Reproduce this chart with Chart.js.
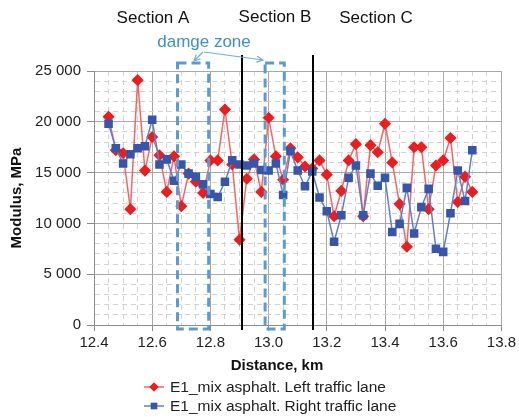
<!DOCTYPE html>
<html>
<head>
<meta charset="utf-8">
<script src="https://cdn.jsdelivr.net/npm/chart.js@4.4.0/dist/chart.umd.min.js"></script>
<style>
  html, body { margin: 0; padding: 0; background: #fff; }
</style>
</head>
<body>
<canvas id="chart" width="519" height="417"></canvas>
<script>
// distance along the road, km
const distance = [
  12.45, 12.475, 12.5, 12.525, 12.55, 12.575, 12.6, 12.625, 12.65, 12.675,
  12.7, 12.725, 12.75, 12.775, 12.8, 12.825, 12.85, 12.875, 12.9, 12.925,
  12.95, 12.975, 13.0, 13.025, 13.05, 13.075, 13.1, 13.125, 13.15, 13.175,
  13.2, 13.225, 13.25, 13.275, 13.3, 13.325, 13.35, 13.375, 13.4, 13.425,
  13.45, 13.475, 13.5, 13.525, 13.55, 13.575, 13.6, 13.625, 13.65, 13.675,
  13.7
];
// E1 modulus, MPa
const leftLane = [
  20500, 17200, 16900, 11400, 24100, 15200, 18500, 16700, 13100, 16600,
  11700, 14900, 14100, 13000, 16200, 16200, 21200, 15800, 8400, 14400,
  16300, 13100, 20400, 16600, 14300, 17400, 16500, 15600, 15400, 16200,
  14800, 10700, 13200, 16200, 17800, 10700, 17700, 17000, 19800, 16000,
  11900, 7700, 17500, 17500, 11400, 15700, 16200, 18400, 12100, 14600,
  13100
];
const rightLane = [
  19800, 17400, 15900, 16800, 17400, 17600, 20200, 15800, 16300, 14200,
  15800, 14900, 14600, 13850, 12900, 12600, 14100, 16200, 15800, 15700,
  15900, 15250, 15200, 15900, 12800, 17100, 15200, 13650, 15100, 12550,
  11200, 8200, 10800, 14500, 15700, 10800, 14900, 13700, 14500, 9150,
  9950, 13500, 9000, 11600, 13400, 7500, 7200, 11000, 15200, 12200,
  17200
];

const xTickLabels = ['12.4', '12.6', '12.8', '13.0', '13.2', '13.4', '13.6', '13.8'];
const yTickLabels = [0, 5000, 10000, 15000, 20000, 25000];

const sectionNames = ['Section A', 'Section B', 'Section C'];
const sectionBorders = [12.907, 13.152];
const damageZones = [[12.687, 12.794], [12.988, 13.054]];

const seriesNames = ['E1_mix asphalt. Left traffic lane', 'E1_mix asphalt. Right traffic lane'];
const RED = '#f01c1c', RED_LINE = '#ff6262';
const BLUE = '#3656ad', BLUE_LINE = '#5b7fd0';
const FONT = "'Liberation Sans', Arial, sans-serif";

Chart.defaults.font.family = FONT;
Chart.defaults.color = '#222';

// major ticks come from the label lists, minor ones sit between them
const xMinor = [];
for (let k = 0; k <= 28; k++) xMinor.push(Math.round((12.4 + k * 0.05) * 100) / 100);
const yMinor = [];
for (let k = 0; k <= 25; k++) yMinor.push(k * 1000);

const xMajor = xTickLabels.map(Number);
const isXMajor = (v) => xMajor.some((m) => Math.abs(m - v) < 1e-6);
const isYMajor = (v) => yTickLabels.includes(v);

const fmtThousands = (v) => String(v).replace(/\B(?=(\d{3})+(?!\d))/g, ' ');

const annotations = {
  id: 'annotations',
  afterDatasetsDraw(chart) {
    const { ctx, chartArea: a, scales: { x, y } } = chart;
    ctx.save();
    // damage zone boxes
    ctx.strokeStyle = '#5b9bd5';
    ctx.lineWidth = 3;
    ctx.setLineDash([9, 5]);
    damageZones.forEach(([x0, x1]) => {
      const l = x.getPixelForValue(x0), r = x.getPixelForValue(x1);
      ctx.strokeRect(l, a.top - 8, r - l, a.bottom - a.top + 12);
    });
    // section borders
    ctx.setLineDash([]);
    ctx.strokeStyle = '#000';
    ctx.lineWidth = 2;
    sectionBorders.forEach((d) => {
      const px = Math.round(x.getPixelForValue(d));
      ctx.beginPath();
      ctx.moveTo(px, a.top - 16);
      ctx.lineTo(px, a.bottom + 5);
      ctx.stroke();
    });
    ctx.restore();
  },
  afterDraw(chart) {
    const { ctx } = chart;
    ctx.save();
    ctx.textBaseline = 'middle';
    ctx.textAlign = 'center';
    ctx.fillStyle = '#111';
    ctx.font = '17px ' + FONT;
    ctx.fillText(sectionNames[0], 153, 18);
    ctx.fillText(sectionNames[1], 275, 17);
    ctx.fillText(sectionNames[2], 376, 18);

    ctx.fillStyle = '#3d8fd6';
    ctx.font = '17px ' + FONT;
    ctx.fillText('damge zone', 204, 42);

    // arrows from the label to the boxes
    ctx.strokeStyle = '#6aaee0';
    ctx.lineWidth = 1.2;
    const arrow = (x0, y0, x1, y1) => {
      ctx.beginPath();
      ctx.moveTo(x0, y0);
      ctx.lineTo(x1, y1);
      const ang = Math.atan2(y1 - y0, x1 - x0);
      ctx.moveTo(x1 - 7 * Math.cos(ang - 0.45), y1 - 7 * Math.sin(ang - 0.45));
      ctx.lineTo(x1, y1);
      ctx.lineTo(x1 - 7 * Math.cos(ang + 0.45), y1 - 7 * Math.sin(ang + 0.45));
      ctx.stroke();
    };
    arrow(203, 52, 194, 61);
    arrow(204, 52, 263, 60);

    // x axis title
    ctx.fillStyle = '#111';
    ctx.font = 'bold 15px ' + FONT;
    ctx.fillText('Distance, km', 277, 366);

    // legend
    const rows = [
      { y: 387, line: RED_LINE, fill: RED, style: 'rectRot' },
      { y: 406, line: BLUE_LINE, fill: BLUE, style: 'rect' }
    ];
    ctx.textAlign = 'left';
    ctx.font = '15.5px ' + FONT;
    rows.forEach((r, i) => {
      ctx.strokeStyle = r.line;
      ctx.lineWidth = 1.5;
      ctx.beginPath();
      ctx.moveTo(144, r.y);
      ctx.lineTo(164, r.y);
      ctx.stroke();
      ctx.fillStyle = r.fill;
      Chart.helpers.drawPoint(ctx, { pointStyle: r.style, radius: 4.5, borderWidth: 0 }, 154, r.y);
      ctx.fill();
      ctx.fillStyle = '#222';
      ctx.fillText(seriesNames[i], 170, r.y + 1);
    });
    ctx.restore();
  }
};

new Chart(document.getElementById('chart'), {
  type: 'line',
  data: {
    datasets: [
      {
        label: seriesNames[0],
        data: distance.map((d, i) => ({ x: d, y: leftLane[i] })),
        borderColor: RED_LINE,
        backgroundColor: RED,
        pointBackgroundColor: RED,
        pointBorderColor: RED,
        pointStyle: 'rectRot',
        pointRadius: 5,
        borderWidth: 1.5,
        tension: 0,
        order: 1
      },
      {
        label: seriesNames[1],
        data: distance.map((d, i) => ({ x: d, y: rightLane[i] })),
        borderColor: BLUE_LINE,
        backgroundColor: BLUE,
        pointBackgroundColor: BLUE,
        pointBorderColor: BLUE,
        pointStyle: 'rect',
        pointRadius: 5,
        borderWidth: 1.5,
        tension: 0,
        order: 0
      }
    ]
  },
  options: {
    responsive: false,
    animation: false,
    devicePixelRatio: 1,
    layout: { padding: { top: 71, right: 17, bottom: 0, left: 0 } },
    plugins: {
      legend: { display: false },
      tooltip: { enabled: false }
    },
    scales: {
      x: {
        type: 'linear',
        min: 12.4,
        max: 13.8,
        afterBuildTicks: (s) => { s.ticks = xMinor.map((v) => ({ value: v })); },
        afterFit: (s) => { s.height = 92; },
        ticks: {
          autoSkip: false,
          maxRotation: 0,
          padding: 3,
          font: { size: 15 },
          color: '#222',
          callback: (v) => (isXMajor(v) ? Number(v).toFixed(1) : '')
        },
        grid: {
          color: (c) => (isXMajor(c.tick.value) ? '#a8a8a8' : '#d2d2d2'),
          tickColor: (c) => (isXMajor(c.tick.value) ? '#8c8c8c' : 'transparent'),
          tickLength: 6,
          lineWidth: 1
        },
        border: {
          color: '#8c8c8c',
          dash: (c) => (c.tick && !isXMajor(c.tick.value) ? [5, 4] : [])
        }
      },
      y: {
        min: 0,
        max: 25000,
        afterBuildTicks: (s) => { s.ticks = yMinor.map((v) => ({ value: v })); },
        afterFit: (s) => { s.width = 94; },
        title: {
          display: true,
          text: 'Modulus, MPa',
          font: { size: 15, weight: 'bold' },
          color: '#111',
          padding: { top: 8, bottom: 0 }
        },
        ticks: {
          autoSkip: false,
          padding: 6,
          font: { size: 15 },
          color: '#222',
          callback: (v) => (isYMajor(v) ? fmtThousands(v) : '')
        },
        grid: {
          color: (c) => (isYMajor(c.tick.value) ? '#a8a8a8' : '#d2d2d2'),
          tickColor: (c) => (isYMajor(c.tick.value) ? '#8c8c8c' : 'transparent'),
          tickLength: 7,
          lineWidth: 1
        },
        border: {
          color: '#8c8c8c',
          dash: (c) => (c.tick && !isYMajor(c.tick.value) ? [5, 4] : [])
        }
      }
    }
  },
  plugins: [annotations]
});
</script>
</body>
</html>
